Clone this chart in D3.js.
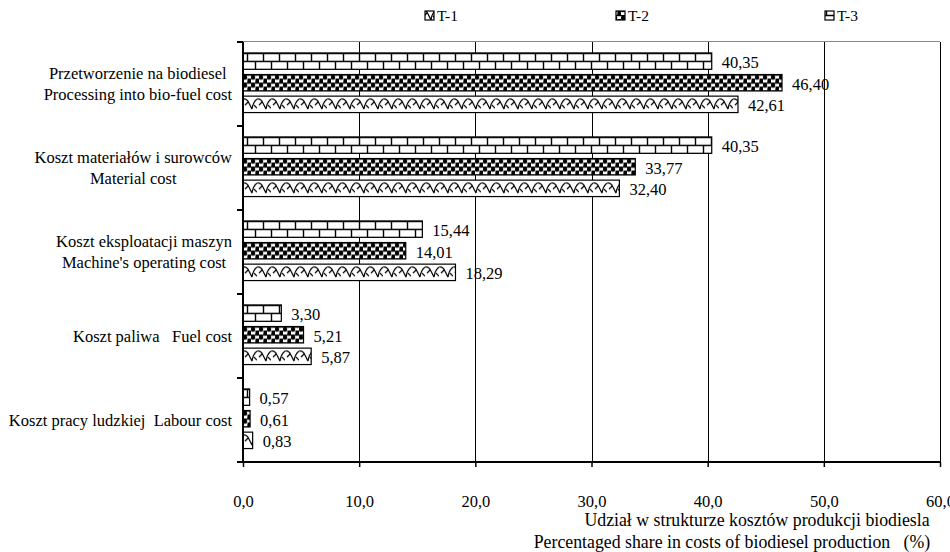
<!DOCTYPE html>
<html><head><meta charset="utf-8">
<script src="https://cdn.jsdelivr.net/npm/d3@7"></script>
<style>
body{margin:0;background:#fff;}
svg text{font-family:"Liberation Serif","Times New Roman",Tinos,"DejaVu Serif",serif !important;fill:#000;}
</style></head>
<body><svg id="c" width="950" height="552" font-family="Liberation Serif, Times New Roman, DejaVu Serif, serif"></svg>
<script>
const categories = [
  ["Przetworzenie na biodiesel","Processing into bio-fuel cost"],
  ["Koszt materiałów i surowców","Material cost"],
  ["Koszt eksploatacji maszyn","Machine's operating cost"],
  ["Koszt paliwa   Fuel cost"],
  ["Koszt pracy ludzkiej  Labour cost"]
];
const seriesNames = ["T-1","T-2","T-3"];
const t1 = [42.61, 32.40, 18.29, 5.87, 0.83];
const t2 = [46.40, 33.77, 14.01, 5.21, 0.61];
const t3 = [40.35, 40.35, 15.44, 3.30, 0.57];
const xTicks = [0,10,20,30,40,50,60];
const xTitle = ["Udział w strukturze kosztów produkcji biodiesla","Percentaged share in costs of biodiesel production   (%)"];

const seriesVals = {"T-1":t1,"T-2":t2,"T-3":t3};
const svg = d3.select("#c");
const FS = 16.5, FT = 17.8, FL = 15.5;
const x = d3.scaleLinear().domain([0,60]).range([243,940]);
const y = d3.scaleBand().domain(d3.range(categories.length)).range([42,462]);
const bw = y.bandwidth();
const inner = d3.scaleBand().domain(["T-3","T-2","T-1"]).range([bw*0.13, bw*0.84]).paddingInner(0.24);
const fmt = v => d3.format(".2f")(v).replace(".",",");

const defs = svg.append("defs");
function makePattern(id, s, px, py){
  const p = defs.append("pattern").attr("id",id).attr("patternUnits","userSpaceOnUse")
    .attr("x",px).attr("y",py);
  if(s==="T-3"){
    p.attr("width",16).attr("height",16);
    p.append("rect").attr("width",16).attr("height",16).attr("fill","#fff");
    p.append("path").attr("d","M0,8.5H16M0,0.5H16M4.5,0V8.5M12.5,8.5V16").attr("stroke","#000").attr("stroke-width",1.4).attr("fill","none");
  } else if(s==="T-2"){
    p.attr("width",8).attr("height",8);
    p.append("rect").attr("width",8).attr("height",8).attr("fill","#fff");
    p.append("rect").attr("x",0).attr("y",0).attr("width",8).attr("height",1.2).attr("fill","#000");
    p.append("circle").attr("cx",2).attr("cy",3).attr("r",2.3).attr("fill","#000");
    p.append("rect").attr("x",4.5).attr("y",4).attr("width",3.5).attr("height",4).attr("fill","#000");
    p.append("circle").attr("cx",6).attr("cy",7).attr("r",1.5).attr("fill","#000");
  } else {
    p.attr("width",14).attr("height",16);
    p.append("rect").attr("width",14).attr("height",16).attr("fill","#fff");
    p.append("path").attr("d","M0,3 Q4,2 6,7 L9,13 M9,13 Q10,6 14,3 M2,9 L5,6 M11,9 L14,12")
      .attr("stroke","#000").attr("stroke-width",1.2).attr("fill","none");
  }
  return "url(#"+id+")";
}

// gridlines
svg.append("line").attr("x1",x(0)).attr("x2",x(60)).attr("y1",41.5).attr("y2",41.5).attr("stroke","#888").attr("stroke-width",1);
svg.selectAll(".grid").data(xTicks.slice(1)).join("line")
  .attr("x1",d=>Math.round(x(d))+0.5).attr("x2",d=>Math.round(x(d))+0.5)
  .attr("y1",42).attr("y2",462).attr("stroke","#000").attr("stroke-width",1);

// bars
categories.forEach((c,i)=>{
  ["T-3","T-2","T-1"].forEach(s=>{
    const v = seriesVals[s][i];
    const by = y(i)+inner(s);
    const fill = makePattern("p"+i+s, s, x(0), by);
    svg.append("rect").attr("x",x(0)).attr("y",by).attr("width",x(v)-x(0)).attr("height",inner.bandwidth())
      .attr("fill",fill).attr("stroke","#000").attr("stroke-width",1.2);
    svg.append("text").attr("x",x(v)+10).attr("y",by+inner.bandwidth()/2+1).attr("dy","0.35em")
      .attr("font-size",FS).text(fmt(v));
  });
});

// axes
const xa = svg.append("g").attr("transform","translate(0,462)")
  .call(d3.axisBottom(x).tickValues(xTicks).tickSize(5).tickPadding(28).tickFormat(d=>d3.format(".1f")(d).replace(".",",")));
xa.attr("font-family",null);
xa.select(".domain").attr("stroke-width",2).attr("d","M243,0H940");
xa.selectAll("line").attr("stroke-width",1.5);
xa.selectAll("text").attr("font-size",FS);
svg.append("line").attr("x1",x(0)).attr("x2",x(0)).attr("y1",42).attr("y2",463).attr("stroke","#000").attr("stroke-width",2);
svg.selectAll(".yt").data(d3.range(categories.length+1)).join("line")
  .attr("x1",237).attr("x2",243).attr("y1",d=>42+d*bw).attr("y2",d=>42+d*bw).attr("stroke","#000").attr("stroke-width",2);

// category labels
categories.forEach((lines,i)=>{
  const g = svg.append("g");
  const cy = y(i)+bw/2;
  const n = lines.length;
  const ts = lines.map((l,k)=> g.append("text").attr("font-size",FS).attr("text-anchor","middle")
    .style("white-space","pre").attr("y",cy+(k-(n-1)/2)*21).attr("dy","0.35em").text(l));
  const w = d3.max(ts, t=>t.node().getComputedTextLength());
  ts.forEach(t=>t.attr("x",232-w/2));
});

// legend
const legX = [425,616,825];
seriesNames.forEach((s,k)=>{
  const fill = makePattern("leg"+s, s, legX[k]-3, 7);
  svg.append("rect").attr("x",legX[k]).attr("y",11).attr("width",9).attr("height",9).attr("fill",fill).attr("stroke","#000").attr("stroke-width",1.2);
  svg.append("text").attr("x",legX[k]+12).attr("y",16).attr("dy","0.35em").attr("font-size",FL).text(s);
});

// axis title
svg.append("text").attr("x",757).attr("y",520).attr("dy","0.35em").attr("font-size",FT).attr("text-anchor","middle").text(xTitle[0]);
svg.append("text").attr("x",732).attr("y",542).attr("dy","0.35em").attr("font-size",FT).attr("text-anchor","middle").style("white-space","pre").text(xTitle[1]);
</script></body></html>
